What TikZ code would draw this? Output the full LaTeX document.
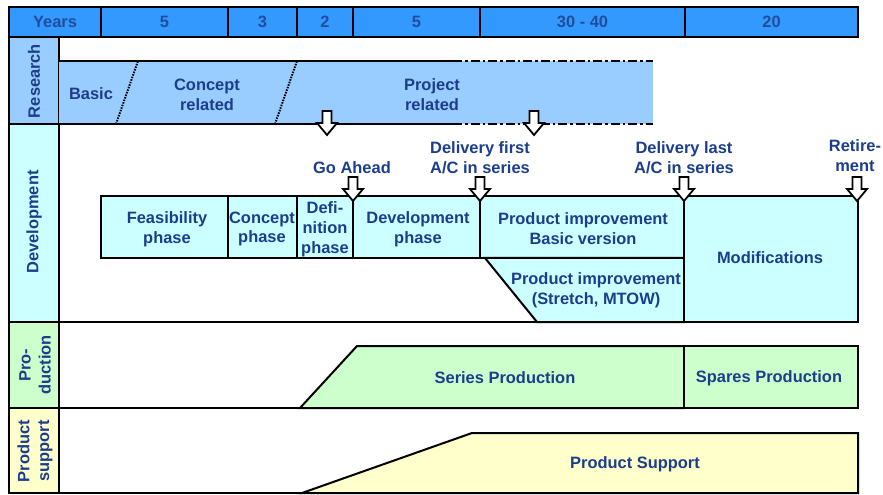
\documentclass[tikz,border=0pt]{standalone}
\usepackage{fontspec}
\setmainfont{Liberation Sans}
\definecolor{hdr}{HTML}{3399FF}
\definecolor{res}{HTML}{99CCFF}
\definecolor{dev}{HTML}{CCFFFF}
\definecolor{prod}{HTML}{CCFFCC}
\definecolor{sup}{HTML}{FFFFCC}
\definecolor{txt}{HTML}{1C3D8C}
\definecolor{htxt}{HTML}{1F4E9C}
\begin{document}
\begin{tikzpicture}[x=1bp,y=-1bp,line join=miter,
  lbl/.style={font=\bfseries\fontsize{16.5}{20}\selectfont, text=txt, align=center, inner sep=0pt},
  hlbl/.style={lbl, text=htxt},
  frame/.style={draw=black, line width=2bp},
  solidline/.style={line width=2bp},
  dashdot/.style={line width=2bp, dash pattern=on 9bp off 3bp on 2.5bp off 3bp},
  dotdiv/.style={line width=2bp, dash pattern=on 1.5bp off 1.2bp},
  harrow/.pic={\draw[line width=1.8bp, fill=white] (-4.5,0) -- (4.5,0) -- (4.5,12) -- (10,12) -- (0,24) -- (-10,12) -- (-4.5,12) -- cycle;}
]
\useasboundingbox (0,0) rectangle (883,495);
% header
\foreach \a/\b/\t [count=\i] in {9/101/Years, 101/228/5, 228/297/3, 297/353/2, 353/480/5, 480/685/30 - 40, 685/858/20} {
  \draw[frame, fill=hdr] (\a,7) rectangle (\b,37);
  \node[hlbl] (h\i) at ({(\a+\b)/2},22) {\t};
}
% label column
\draw[frame, fill=res] (9,37) rectangle (59,124);
\draw[frame, fill=dev] (9,124) rectangle (59,322);
\draw[frame, fill=prod] (9,322) rectangle (59,408);
\draw[frame, fill=sup] (9,408) rectangle (59,493);
\node[lbl, rotate=90] (lres) at (34,81) {Research};
\node[lbl, rotate=90] (ldev) at (34,222) {Development};
\node[lbl, rotate=90] (lprod) at (35,365) {Pro-\\duction};
\node[lbl, rotate=90] (lsup) at (35,451) {Product\\support};
% research
\fill[res] (59,61) rectangle (653,124);
\draw[solidline] (59,61) -- (453,61);
\draw[dashdot] (453,61) -- (653,61);
\draw[solidline] (59,124) -- (453,124);
\draw[dashdot] (453,124) -- (653,124);
\draw[dotdiv] (116,124) -- (138,61);
\draw[dotdiv] (275,124) -- (297,61);
\node[lbl] (basic) at (91,94) {Basic};
\node[lbl] (concrel) at (207,95) {Concept\\related};
\node[lbl] (projrel) at (432,95) {Project\\related};
\pic at (327,111) {harrow};
\pic at (534,111) {harrow};
% development
\draw[solidline] (59,322) -- (858,322);
\draw[frame, fill=dev] (101,196) rectangle (228,258);
\draw[frame, fill=dev] (228,196) rectangle (297,258);
\draw[frame, fill=dev] (297,196) rectangle (353,258);
\draw[frame, fill=dev] (353,196) rectangle (480,258);
\draw[frame, fill=dev] (480,196) rectangle (684,258);
\draw[frame, fill=dev] (485,258) -- (684,258) -- (684,322) -- (537,322) -- cycle;
\draw[frame, fill=dev] (684,196) rectangle (858,322);
\node[lbl] (feas) at (167,229) {Feasibility\\phase};
\node[lbl] (conc) at (262,229) {Concept\\phase};
\node[lbl] (defi) at (325,229) {Defi-\\nition\\phase};
\node[lbl] (devp) at (418,229) {Development\\phase};
\node[lbl] (pibasic) at (583,229) {Product improvement\\Basic version};
\node[lbl] (pistretch) at (596,290) {Product improvement\\(Stretch, MTOW)};
\node[lbl] (modif) at (770,258) {Modifications};
\node[lbl] (goahead) at (352,168) {Go Ahead};
\node[lbl] (delfirst) at (480,158) {Delivery first\\A/C in series};
\node[lbl] (dellast) at (684,158) {Delivery last\\A/C in series};
\node[lbl] (retire) at (855,156) {Retire-\\ment};
\pic at (353,177) {harrow};
\pic at (480,177) {harrow};
\pic at (684,177) {harrow};
\pic at (857,177) {harrow};
% production
\draw[solidline] (59,408) -- (858,408);
\draw[frame, fill=prod] (300,408) -- (357,346) -- (684,346) -- (684,408) -- cycle;
\draw[frame, fill=prod] (684,346) rectangle (858,408);
\node[lbl] (series) at (505,378) {Series Production};
\node[lbl] (spares) at (769,378) {Spares Production};
% product support
\draw[solidline] (59,493) -- (858,493);
\draw[frame, fill=sup] (302,493) -- (472,433) -- (858,433) -- (858,493) -- cycle;
\node[lbl] (support) at (635,464) {Product Support};
\end{tikzpicture}
\end{document}
